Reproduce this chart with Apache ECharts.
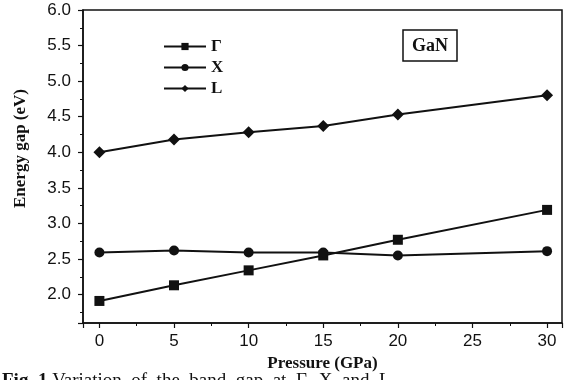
<!DOCTYPE html>
<html>
<head>
<meta charset="utf-8">
<script src="https://cdn.jsdelivr.net/npm/echarts@6/dist/echarts.min.js"></script>
<style>
  html, body { margin: 0; padding: 0; background: #fff; }
  #chart { width: 565px; height: 380px; }
</style>
</head>
<body>
<div id="chart"></div>
<script>
// pressure points (GPa)
const pressure = [0, 5, 10, 15, 20, 30]
// energy gaps (eV)
const gammaGap = [1.91, 2.13, 2.34, 2.55, 2.77, 3.19]
const xGap = [2.59, 2.62, 2.59, 2.59, 2.55, 2.61]
const lGap = [4.0, 4.18, 4.28, 4.37, 4.53, 4.80]
const seriesNames = ['\u0393', 'X', 'L']

const chart = echarts.init(document.getElementById('chart'))

const serif = '"Liberation Serif", "DejaVu Serif", serif'
const sans = '"Liberation Sans", Arial, sans-serif'
const ink = '#111'

function pairs(vals) {
  return pressure.map((p, i) => [p, vals[i]])
}

function lineSeries(name, vals, symbol, size) {
  return {
    name,
    type: 'line',
    data: pairs(vals),
    symbol,
    symbolSize: size,
    lineStyle: { color: ink, width: 2 },
    itemStyle: { color: ink },
    z: 3,
  }
}

// shared axis look
const axisLine = { show: true, onZero: false, lineStyle: { color: ink, width: 1.5 } }
const axisTick = { show: true, inside: false, length: 5, lineStyle: { color: ink, width: 1.2 } }
const minorTick = { show: true, splitNumber: 2, length: 3, lineStyle: { color: ink, width: 1 } }
const nameStyle = { fontFamily: serif, fontWeight: 'bold', fontSize: 17, color: ink }

const option = {
  animation: false,
  backgroundColor: '#fff',
  grid: {
    left: 83,
    right: 3,
    top: 10,
    bottom: 57,
    show: true,
    borderColor: ink,
    borderWidth: 1.5,
  },
  title: {
    text: 'GaN',
    left: 403,
    top: 30,
    padding: [7, 9, 6, 9],
    borderColor: ink,
    borderWidth: 1.5,
    textStyle: { fontFamily: serif, fontWeight: 'bold', fontSize: 18, color: ink },
  },
  legend: {
    orient: 'vertical',
    left: 158,
    top: 33,
    itemWidth: 42,
    itemHeight: 9,
    itemGap: 4,
    textStyle: { fontFamily: serif, fontWeight: 'bold', fontSize: 17, color: ink },
    data: seriesNames,
  },
  xAxis: {
    type: 'value',
    min: -1.1,
    max: 31,
    splitNumber: 6,
    name: 'Pressure (GPa)',
    nameLocation: 'middle',
    nameGap: 31,
    nameTextStyle: nameStyle,
    axisLine,
    axisTick,
    minorTick,
    axisLabel: { fontFamily: sans, fontSize: 17, color: ink, margin: 10, showMinLabel: false, showMaxLabel: false },
    splitLine: { show: false },
  },
  yAxis: {
    type: 'value',
    min: 1.6,
    max: 6.0,
    splitNumber: 9,
    name: 'Energy gap (eV)',
    nameLocation: 'middle',
    nameGap: 54,
    nameTextStyle: { ...nameStyle, padding: [0, 0, 0, 36] },
    axisLine,
    axisTick,
    minorTick,
    axisLabel: {
      fontFamily: sans,
      fontSize: 17,
      color: ink,
      margin: 12,
      showMinLabel: false,
      formatter: (v) => v.toFixed(1),
    },
    splitLine: { show: false },
  },
  graphic: [
    {
      type: 'text',
      left: 2,
      top: 372,
      style: {
        text: '{b|Fig. 1} Variation  of  the  band  gap  at  \u0393,  X  and  L',
        font: '19px ' + serif,
        fill: ink,
        rich: {
          b: { fontFamily: serif, fontWeight: 'bold', fontSize: 19, fill: ink },
        },
      },
    },
  ],
  series: [
    lineSeries(seriesNames[0], gammaGap, 'rect', 10),
    lineSeries(seriesNames[1], xGap, 'circle', 10),
    lineSeries(seriesNames[2], lGap, 'diamond', 12),
  ],
}

chart.setOption(option)
</script>
</body>
</html>
